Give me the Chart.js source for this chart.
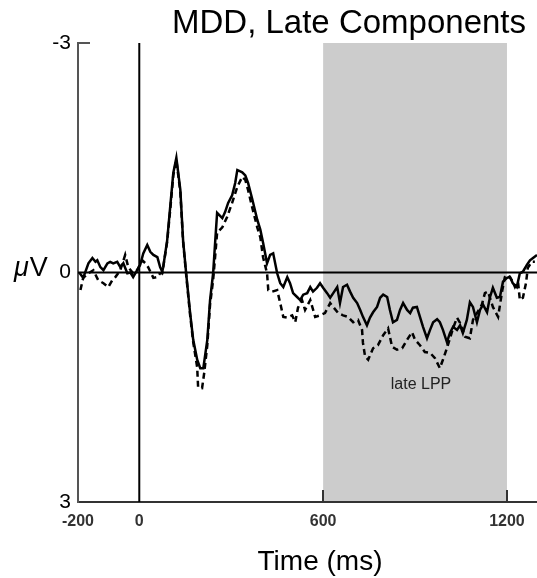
<!DOCTYPE html>
<html>
<head>
<meta charset="utf-8">
<script src="https://cdn.jsdelivr.net/npm/chart.js@4/dist/chart.umd.min.js"></script>
<style>html,body{margin:0;padding:0;background:#fff}</style>
</head>
<body>
<canvas id="erp" width="537" height="578"></canvas>
<script>
// ticks and the shaded late-LPP window (ms)
const xTicks = [-200, 0, 600, 1200];
const yTicks = [-3, 0, 3];
const lppWindow = [600, 1200];

// solid waveform
const solidTime = [-196,-183,-166,-153,-143,-137,-127,-117,-104,-95,
  -85,-72,-62,-52,-39,-29,-20,-7,3,13,
  26,36,46,59,68,75,78,91,101,111,
  121,134,143,153,166,176,189,199,209,222,
  231,241,248,254,271,280,290,303,313,320,
  336,346,355,368,385,395,404,417,427,437,
  450,460,470,483,492,502,515,525,535,548,
  558,567,580,590,600,613,623,633,646,655,
  665,678,688,698,711,721,730,743,753,763,
  776,786,796,809,818,828,841,851,861,874,
  884,893,906,916,926,939,949,959,972,981,
  991,1004,1014,1024,1037,1047,1056,1069,1079,1089,
  1102,1112,1122,1135,1144,1154,1167,1177,1187,1200,
  1210,1219,1232,1242,1252,1265,1275,1285,1298];
const solidUv = [0.0,0.07,-0.12,-0.19,-0.14,-0.16,-0.07,-0.03,-0.12,-0.14,
  -0.12,-0.14,-0.07,-0.12,0.01,0.0,0.06,-0.03,-0.10,-0.25,
  -0.36,-0.27,-0.23,-0.20,-0.07,-0.01,-0.07,-0.42,-0.86,-1.30,
  -1.50,-1.08,-0.42,0.01,0.53,0.88,1.14,1.25,1.25,0.88,
  0.36,0.01,-0.42,-0.78,-0.71,-0.79,-0.91,-1.01,-1.17,-1.34,
  -1.31,-1.27,-1.17,-0.97,-0.69,-0.56,-0.39,-0.12,-0.23,-0.25,
  0.01,0.14,0.19,0.06,0.14,0.27,0.32,0.36,0.29,0.27,
  0.19,0.25,0.20,0.14,0.20,0.27,0.33,0.27,0.19,0.40,
  0.19,0.16,0.25,0.33,0.40,0.49,0.58,0.69,0.59,0.52,
  0.45,0.33,0.29,0.32,0.49,0.65,0.62,0.49,0.40,0.49,
  0.53,0.46,0.45,0.58,0.71,0.86,0.75,0.65,0.61,0.65,
  0.75,0.91,0.79,0.71,0.75,0.69,0.79,0.62,0.39,0.45,
  0.65,0.49,0.42,0.52,0.33,0.20,0.33,0.32,0.12,0.07,
  0.06,0.14,0.19,0.01,-0.01,-0.10,-0.16,-0.19,-0.23];

// dashed waveform
const dashedTime = [-192,-183,-166,-150,-134,-117,-101,-88,-78,-62,
  -46,-36,-20,-7,10,20,29,46,59,68,
  75,91,101,111,121,134,143,153,166,176,
  189,192,205,212,222,231,241,248,254,271,
  287,303,320,336,346,355,368,385,395,404,
  417,421,434,450,460,470,483,499,509,518,
  531,541,558,574,590,606,623,633,649,665,
  681,698,714,727,730,737,747,763,779,796,
  812,825,841,858,874,890,900,916,932,949,
  965,981,991,1004,1014,1024,1037,1047,1063,1079,
  1089,1102,1118,1128,1138,1154,1171,1184,1193,1203,
  1216,1226,1236,1242,1252,1262,1268,1281,1291];
const dashedUv = [0.23,0.07,0.01,-0.03,0.10,0.14,0.19,0.10,0.06,-0.03,
  -0.23,-0.07,0.01,-0.03,-0.16,-0.12,-0.07,0.07,0.06,0.01,
  0.01,-0.40,-0.82,-1.27,-1.47,-1.05,-0.40,0.03,0.56,0.91,
  1.24,1.50,1.51,1.31,0.95,0.42,0.10,-0.23,-0.52,-0.59,
  -0.73,-0.91,-1.12,-1.25,-1.21,-1.08,-0.86,-0.59,-0.46,-0.20,
  0.01,0.23,0.25,0.23,0.40,0.58,0.59,0.56,0.65,0.46,
  0.36,0.49,0.36,0.58,0.56,0.53,0.40,0.45,0.53,0.56,
  0.58,0.65,0.62,0.75,0.92,1.10,1.14,0.99,0.95,0.82,
  0.73,0.97,1.01,0.99,0.88,0.78,0.88,0.95,1.04,1.05,
  1.12,1.25,1.14,0.99,0.86,0.73,0.59,0.66,0.84,0.86,
  0.62,0.53,0.42,0.27,0.25,0.45,0.58,0.25,0.06,0.03,
  0.10,0.19,0.12,0.36,0.33,0.14,-0.06,-0.14,-0.14];

const FONT = '"Liberation Sans", Arial, Helvetica, sans-serif';

function toPoints(ts, vs) {
  return ts.map((t, i) => ({x: t, y: vs[i]}));
}

const erpDecor = {
  id: 'erpDecor',
  beforeDatasetsDraw(chart) {
    const {ctx, chartArea: a, scales: {x, y}} = chart;
    ctx.save();
    // shaded window
    const x0 = x.getPixelForValue(lppWindow[0]);
    const x1 = x.getPixelForValue(lppWindow[1]);
    ctx.fillStyle = '#cccccc';
    ctx.fillRect(x0, a.top, x1 - x0, a.bottom - a.top - 1);
    // zero lines
    ctx.strokeStyle = '#000';
    ctx.lineWidth = 2;
    const zx = x.getPixelForValue(0);
    ctx.beginPath(); ctx.moveTo(zx, a.top); ctx.lineTo(zx, a.bottom); ctx.stroke();
    const zy = y.getPixelForValue(0);
    ctx.beginPath(); ctx.moveTo(a.left, zy); ctx.lineTo(a.right, zy); ctx.stroke();
    ctx.restore();
  },
  afterDraw(chart) {
    const {ctx, chartArea: a, scales: {x, y}} = chart;
    ctx.save();
    // inward tick marks
    ctx.strokeStyle = '#333';
    ctx.lineWidth = 2;
    [600, 1200].forEach(v => {
      const px = Math.round(x.getPixelForValue(v));
      ctx.beginPath(); ctx.moveTo(px, a.bottom); ctx.lineTo(px, a.bottom - 12); ctx.stroke();
    });
    ctx.strokeStyle = '#555';
    const ty = y.getPixelForValue(-3);
    ctx.beginPath(); ctx.moveTo(a.left, ty); ctx.lineTo(a.left + 12, ty); ctx.stroke();

    ctx.fillStyle = '#000';
    // title
    ctx.font = '33px ' + FONT;
    ctx.textAlign = 'right';
    ctx.textBaseline = 'alphabetic';
    ctx.fillText('MDD, Late Components', 526, 33);
    // y unit
    ctx.textAlign = 'left';
    ctx.font = 'italic 27px ' + FONT;
    ctx.fillText('\u03bc', 14, 276);
    const w = ctx.measureText('\u03bc').width;
    ctx.font = '27px ' + FONT;
    ctx.fillText('V', 14 + w + 1, 276);
    // x title
    ctx.textAlign = 'center';
    ctx.font = '28px ' + FONT;
    ctx.fillText('Time (ms)', 320, 570);
    // annotation
    ctx.fillStyle = '#222';
    ctx.font = '16px ' + FONT;
    ctx.fillText('late LPP', 421, 389);
    ctx.restore();
  }
};

new Chart(document.getElementById('erp'), {
  type: 'line',
  data: {
    datasets: [{
      label: 'solid',
      data: toPoints(solidTime, solidUv),
      borderColor: '#000',
      borderWidth: 2.5,
      pointRadius: 0,
      tension: 0
    }, {
      label: 'dashed',
      data: toPoints(dashedTime, dashedUv),
      borderColor: '#000',
      borderWidth: 2.5,
      borderDash: [6, 4],
      pointRadius: 0,
      tension: 0
    }]
  },
  options: {
    responsive: false,
    animation: false,
    layout: {padding: {top: 43, right: 0, left: 0, bottom: 0}},
    plugins: {legend: {display: false}, tooltip: {enabled: false}},
    scales: {
      x: {
        type: 'linear',
        min: -200,
        max: 1298,
        afterBuildTicks: s => { s.ticks = xTicks.map(v => ({value: v})); },
        afterFit: s => { s.height = 76; },
        grid: {display: false, drawTicks: false},
        border: {display: true, color: '#333', width: 2},
        ticks: {
          autoSkip: false, maxRotation: 0, padding: 10, color: '#333',
          font: {family: FONT, size: 16, weight: 'bold'},
          callback: v => String(v)
        }
      },
      y: {
        type: 'linear',
        min: -3,
        max: 3,
        reverse: true,
        afterBuildTicks: s => { s.ticks = yTicks.map(v => ({value: v})); },
        afterFit: s => { s.width = 78; },
        grid: {display: false, drawTicks: false},
        border: {display: true, color: '#555', width: 2},
        ticks: {
          padding: 7, color: '#000',
          font: {family: FONT, size: 21},
          callback: v => String(v)
        }
      }
    }
  },
  plugins: [erpDecor]
});
</script>
</body>
</html>
